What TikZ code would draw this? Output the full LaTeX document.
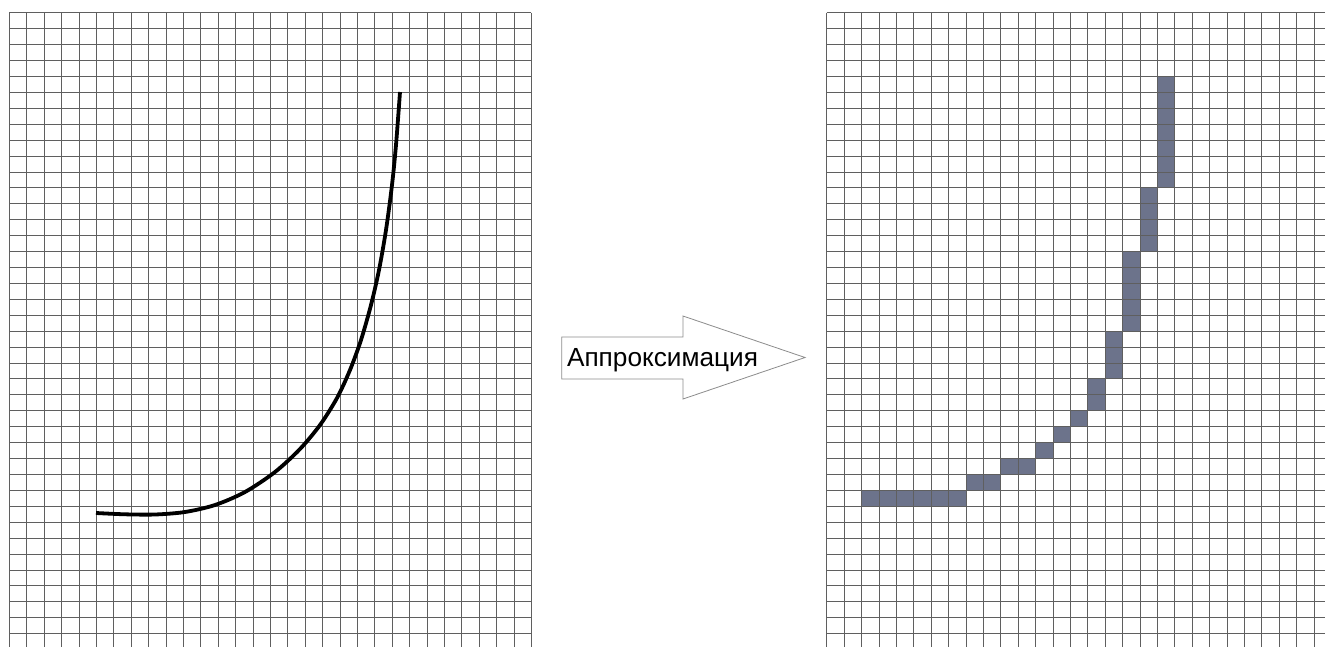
\documentclass[tikz,border=0pt]{standalone}
\usepackage{fontspec}
\setmainfont{Liberation Sans}
\definecolor{cellfill}{RGB}{108,115,139}
\definecolor{gridgray}{RGB}{95,95,95}
\definecolor{arrowgray}{RGB}{140,140,140}
\begin{document}
\begin{tikzpicture}[x=1pt,y=-1pt,
  gridline/.style={draw=gridgray, line width=0.8pt},
  cellbox/.style={fill=cellfill, draw=none},
  curveline/.style={draw=black, line width=3.8pt, line cap=butt, line join=round},
  arrowshape/.style={draw=arrowgray, fill=white, line width=0.8pt, line join=miter},
  arrowlabel/.style={font=\fontsize{26.2}{31}\selectfont, text=black, inner sep=0pt}]

\useasboundingbox (0,0) rectangle (1325,646);
\fill[white] (0,0) rectangle (1325,646);
\clip (0,0) rectangle (1325,646);

% filled cells of the approximation (right grid)
\foreach \ca/\cb/\ra/\rb in {2/8/30/31, 8/10/29/30, 10/12/28/29, 12/13/27/28, 13/14/26/27,
  14/15/25/26, 15/16/23/25, 16/17/20/23, 17/18/15/20, 18/19/11/15, 19/20/4/11}
  \fill[cellbox] ({826.7+17.4*\ca},{12.7+15.92*\ra}) rectangle ({826.7+17.4*\cb},{12.7+15.92*\rb});

% grids
\foreach \gx in {9.3, 826.7} {
  \foreach \i in {0,...,30}
    \draw[gridline] ({\gx+17.4*\i},12.7) -- ({\gx+17.4*\i},660);
  \foreach \j in {0,...,40}
    \draw[gridline] (\gx,{12.7+15.92*\j}) -- ({\gx+522},{12.7+15.92*\j});
}

% curve (left grid)
\draw[curveline] plot[smooth, tension=0.5] coordinates {
  (96,513) (125,514.3) (155,514.5) (185,512) (215,505) (245,492) (275,472)
  (300,449) (320,425) (337,398) (350,370) (361,340) (371,305) (379,270)
  (386,230) (392,185) (396,145) (400,92)};

% block arrow
\draw[arrowshape] (561.7,337) -- (683,337) -- (683,316) -- (805,357.5)
  -- (683,399) -- (683,379) -- (561.7,379) -- cycle;
\node[arrowlabel, anchor=base] (lbl) at (662.5,366.5) {Аппроксимация};
\end{tikzpicture}
\end{document}
